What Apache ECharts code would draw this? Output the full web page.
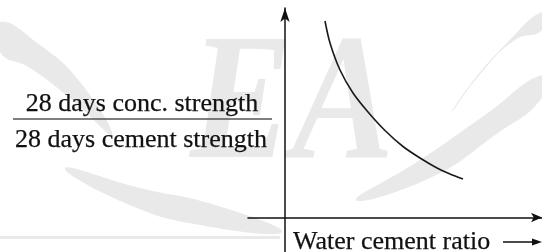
<!DOCTYPE html>
<html><head><meta charset="utf-8">
<script src="https://cdn.jsdelivr.net/npm/echarts@6/dist/echarts.min.js"></script>
<style>html,body{margin:0;padding:0;background:#fff}#c{width:542px;height:252px}</style>
</head><body><div id="c"></div>
<script>
// Schematic values (arbitrary units)
const waterCementRatio = [0.40, 0.45, 0.55, 0.68, 0.83, 1.00, 1.18, 1.35, 1.52, 1.65, 1.78];
const strengthRatio    = [1.965, 1.745, 1.475, 1.245, 1.055, 0.87, 0.71, 0.595, 0.495, 0.435, 0.385];
const xAxisTitle = 'Water cement ratio';
const yNumerator = '28 days conc. strength';
const yDenominator = '28 days cement strength';
const xRange = [-0.37, 2.57];
const yRange = [-0.345, 2.095];

const chart = echarts.init(document.getElementById('c'), null, {renderer: 'canvas'});
const serif = '"Liberation Serif", "Times New Roman", serif';
const wm = '#e9e9e9';
const ink = '#111';
const curve = waterCementRatio.map((x, i) => [x, strengthRatio[i]]);
const txt = (x, y, text, align) => ({type: 'text', x: x, y: y, style: {text: text, font: '26px ' + serif, fill: ink, stroke: ink, lineWidth: 0.25, textAlign: align, textVerticalAlign: 'middle'}});

chart.setOption({
  animation: false,
  backgroundColor: '#fff',
  grid: {left: 248, right: 0, top: 8, bottom: 0, containLabel: false},
  xAxis: {
    type: 'value', min: xRange[0], max: xRange[1],
    axisLine: {onZero: true, symbol: ['none', 'arrow'], symbolSize: [7, 11],
      lineStyle: {color: ink, width: 1.5}},
    axisTick: {show: false}, axisLabel: {show: false}, splitLine: {show: false}
  },
  yAxis: {
    type: 'value', min: yRange[0], max: yRange[1],
    axisLine: {onZero: true, symbol: ['none', 'arrow'], symbolSize: [7, 14],
      lineStyle: {color: ink, width: 1.5}},
    axisTick: {show: false}, axisLabel: {show: false}, splitLine: {show: false}
  },
  series: [{
    type: 'line', data: curve, smooth: 0.3, showSymbol: false,
    lineStyle: {color: '#1a1a1a', width: 1.6}, z: 5
  }],
  graphic: {elements: [
    // faint watermark
    {type: 'polygon', z: -5, silent: true, shape: {smooth: 0.5, points: [[0,22],[40,45],[80,82],[112,135],[72,100],[30,68],[0,52]]}, style: {fill: wm}},
    {type: 'polygon', z: -5, silent: true, shape: {smooth: 0.5, points: [[65,168],[140,188],[215,205],[282,232],[200,225],[125,203]]}, style: {fill: wm}},
    {type: 'polygon', z: -5, silent: true, shape: {smooth: 0.5, points: [[542,12],[505,45],[470,85],[452,112],[482,72],[515,40],[542,30]]}, style: {fill: wm}},
    {type: 'polygon', z: -5, silent: true, shape: {smooth: 0.5, points: [[542,75],[485,115],[420,160],[356,200],[430,178],[495,135],[542,98]]}, style: {fill: wm}},
    {type: 'rect', z: -5, silent: true, shape: {x: 0, y: 236, width: 280, height: 3}, style: {fill: wm}},
    {type: 'text', z: -4, silent: true, x: 190, y: 20, scaleX: 0.85,
      style: {text: 'EA', font: 'italic bold 180px ' + serif, fill: wm, textVerticalAlign: 'top'}},
    // fraction label
    txt(142, 104, yNumerator, 'center'),
    {type: 'line', shape: {x1: 13, y1: 119, x2: 272, y2: 119}, style: {stroke: '#555', lineWidth: 1.5}},
    txt(141, 140, yDenominator, 'center'),
    // x title with arrow
    txt(293, 242, xAxisTitle, 'left'),
    {type: 'line', shape: {x1: 503, y1: 242, x2: 535, y2: 242}, style: {stroke: ink, lineWidth: 1.5}},
    {type: 'polygon', shape: {points: [[532, 238.5], [542, 242], [532, 245.5]]}, style: {fill: ink}}
  ]}
});
</script></body></html>
